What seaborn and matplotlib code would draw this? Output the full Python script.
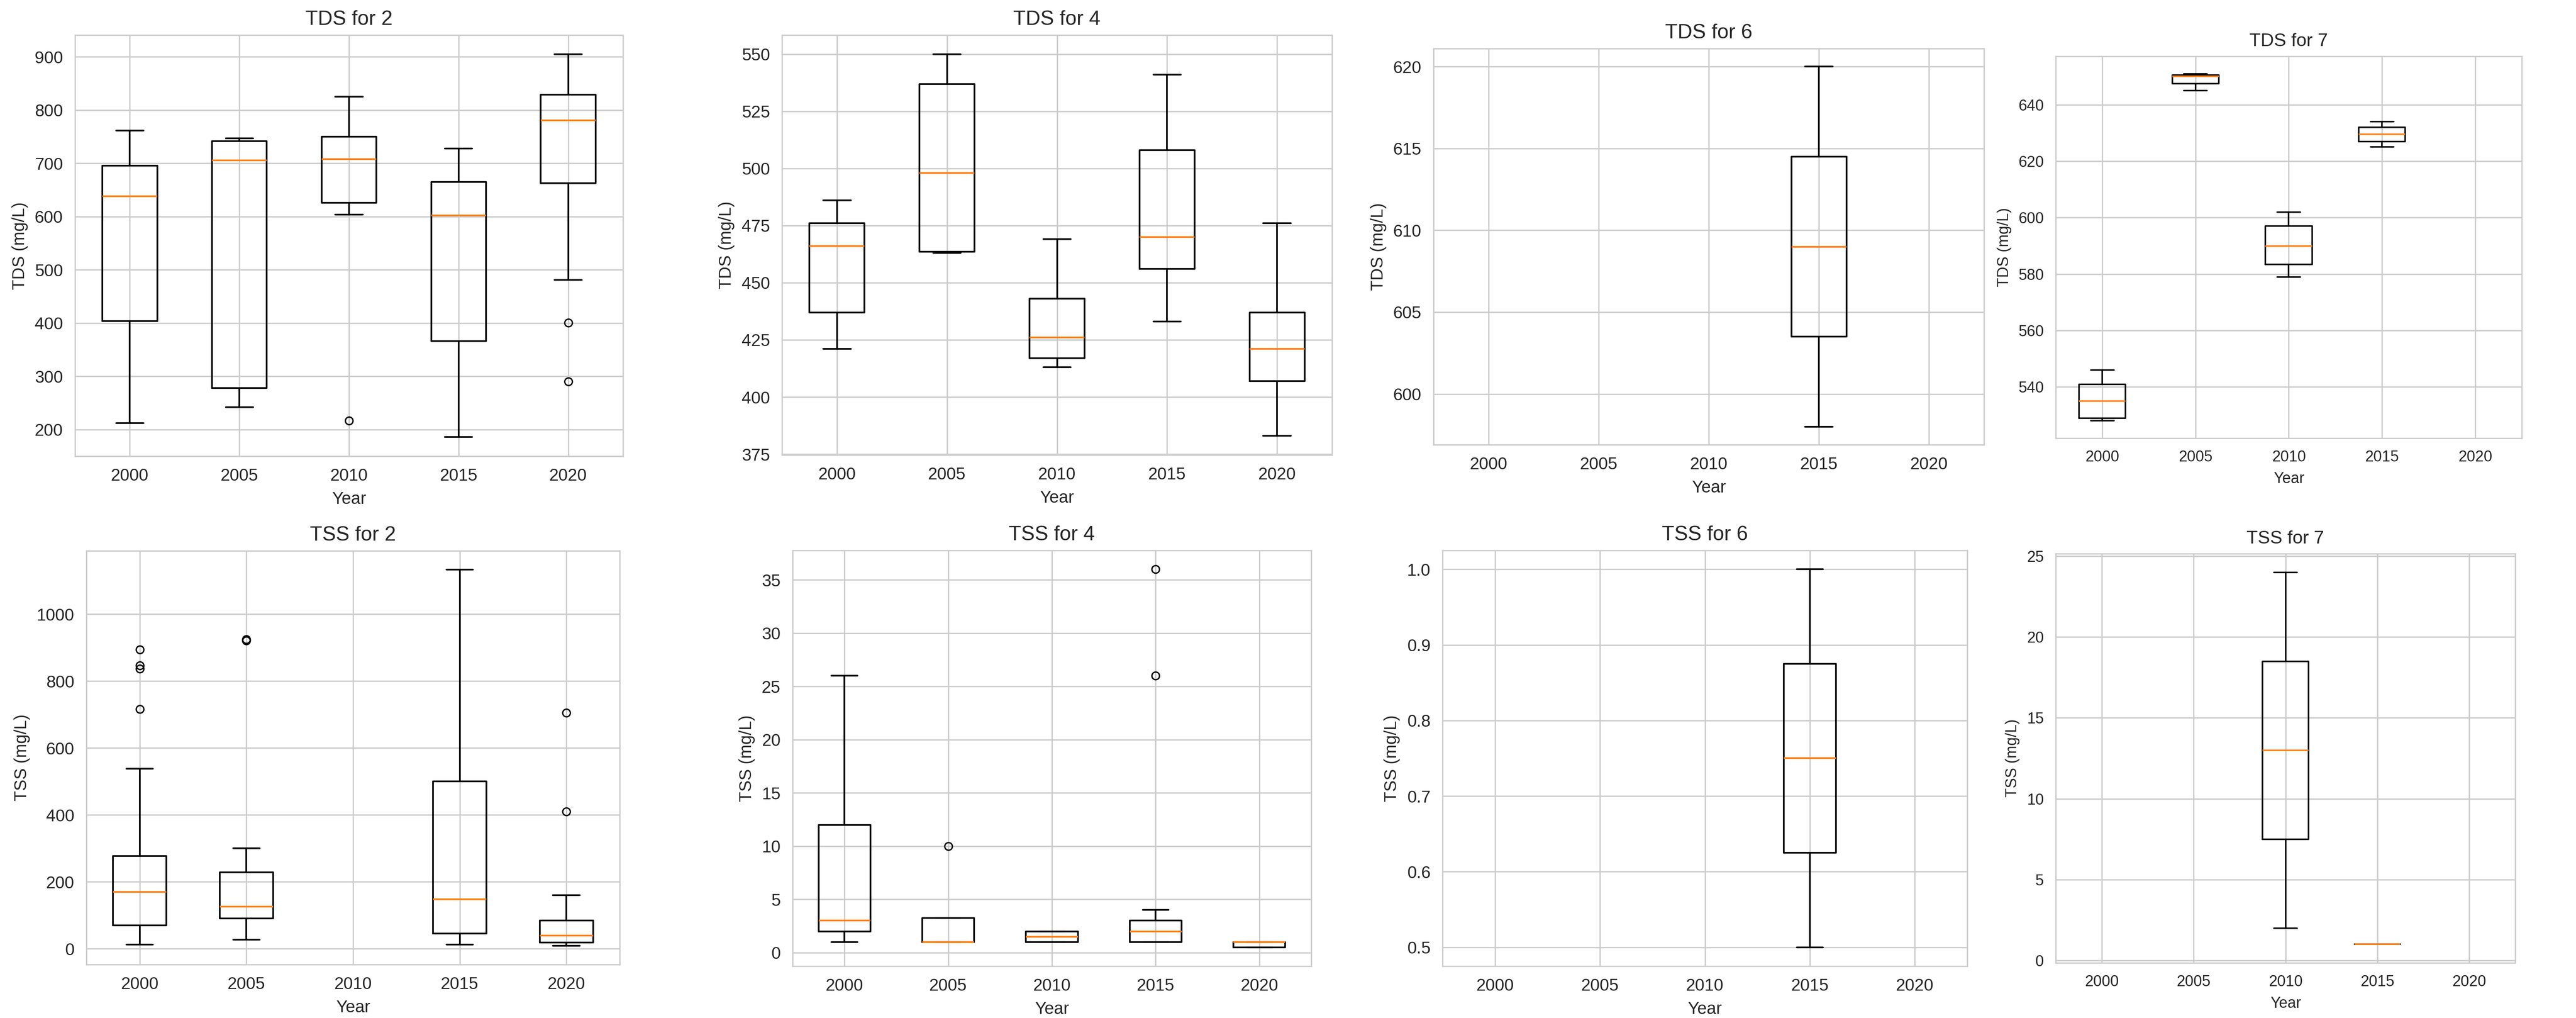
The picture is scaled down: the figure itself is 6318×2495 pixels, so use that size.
import matplotlib
matplotlib.use("Agg")
import matplotlib.pyplot as plt
import seaborn as sns

# Years on the x axis
years = [2000, 2005, 2010, 2015, 2020]

# Box stats, one entry per year:
# [whisker low, q1, median, q3, whisker high], None = no samples that year
tds_2 = [[212, 404, 638, 696, 762], [242, 278, 706, 742, 747], [604, 626, 708, 750, 825],
         [186, 366, 602, 665, 728], [481, 663, 781, 829, 905]]
tds_2_fliers = [[], [], [217], [], [401, 290]]

tds_4 = [[421, 437, 466, 476, 486], [463, 463.5, 498, 537, 550], [413, 417, 426, 443, 469],
         [433, 456, 470, 508, 541], [383, 407, 421, 437, 476]]
tds_4_fliers = [[], [], [], [], []]

tds_6 = [None, None, None, [598, 603.5, 609, 614.5, 620], None]
tds_6_fliers = [[], [], [], [], []]

tds_7 = [[528, 529, 535, 541, 546], [645, 647.5, 650, 650.5, 651], [579, 583.5, 590, 597, 602],
         [625, 627, 629.5, 632, 634], None]
tds_7_fliers = [[], [], [], [], []]

tss_2 = [[12, 70, 170, 277, 538], [27, 91, 126, 228, 300], None,
         [12, 46, 148, 500, 1133], [9, 19, 39, 84, 160]]
tss_2_fliers = [[894, 846, 837, 716], [921, 925], [], [], [705, 410]]

tss_4 = [[1, 2, 3, 12, 26], [1, 1, 1, 3.25, 3.25], [1, 1, 1.5, 2, 2],
         [1, 1, 2, 3, 4], [0.5, 0.5, 1, 1, 1]]
tss_4_fliers = [[], [10], [], [36, 26], []]

tss_6 = [None, None, None, [0.5, 0.625, 0.75, 0.875, 1.0], None]
tss_6_fliers = [[], [], [], [], []]

tss_7 = [None, None, [2, 7.5, 13, 18.5, 24], [1, 1, 1, 1, 1], None]
tss_7_fliers = [[], [], [], [], []]

sites = [2, 4, 6, 7]

# axes boxes in pixels (left, top, right, bottom) to mimic the uneven layout
W, H = 6318, 2495
top_boxes = [(184, 86, 1528, 1118), (1918, 86, 3267, 1115),
             (3516, 119, 4866, 1090), (5042, 138, 6185, 1074)]
bottom_boxes = [(212, 1350, 1520, 2364), (1944, 1349, 3216, 2368),
                (3538, 1349, 4825, 2368), (5042, 1357, 6169, 2360)]

sns.set_style("whitegrid")
plt.rcParams["font.family"] = ["Liberation Sans", "DejaVu Sans"]


def draw_panel(fig, box, stats, fliers, param, site, scale=1.0):
    l, t, r, b = box
    ax = fig.add_axes([l / W, 1 - b / H, (r - l) / W, (b - t) / H])
    bxp_stats, pos = [], []
    for year, st, fl in zip(years, stats, fliers):
        if st is None:
            continue
        lo, q1, med, q3, hi = st
        bxp_stats.append(dict(whislo=lo, q1=q1, med=med, q3=q3, whishi=hi, fliers=fl))
        pos.append(year)
    lw = 1.0 * scale
    ax.bxp(bxp_stats, positions=pos, widths=2.5, manage_ticks=False,
           boxprops=dict(linewidth=lw), whiskerprops=dict(linewidth=lw),
           capprops=dict(linewidth=lw), medianprops=dict(linewidth=lw),
           flierprops=dict(markersize=4.5 * scale, markeredgewidth=0.8 * scale))
    ax.set_xticks(years)
    ax.set_xlim(1997.5, 2022.5)
    ax.tick_params(labelsize=10 * scale)
    ax.set_title(f"{param} for {site}", fontsize=12 * scale)
    ax.set_xlabel("Year", fontsize=10 * scale)
    ax.set_ylabel(f"{param} (mg/L)", fontsize=10 * scale)
    return ax


fig = plt.figure(figsize=(W / 300, H / 300), dpi=300)

tds_all = [(tds_2, tds_2_fliers), (tds_4, tds_4_fliers), (tds_6, tds_6_fliers), (tds_7, tds_7_fliers)]
tss_all = [(tss_2, tss_2_fliers), (tss_4, tss_4_fliers), (tss_6, tss_6_fliers), (tss_7, tss_7_fliers)]

for i, site in enumerate(sites):
    # last column came out a bit smaller in the original
    sc = 0.9 if i == 3 else 1.0
    draw_panel(fig, top_boxes[i], tds_all[i][0], tds_all[i][1], "TDS", site, sc)
    draw_panel(fig, bottom_boxes[i], tss_all[i][0], tss_all[i][1], "TSS", site, sc)

fig.savefig("out.png", dpi=300)
